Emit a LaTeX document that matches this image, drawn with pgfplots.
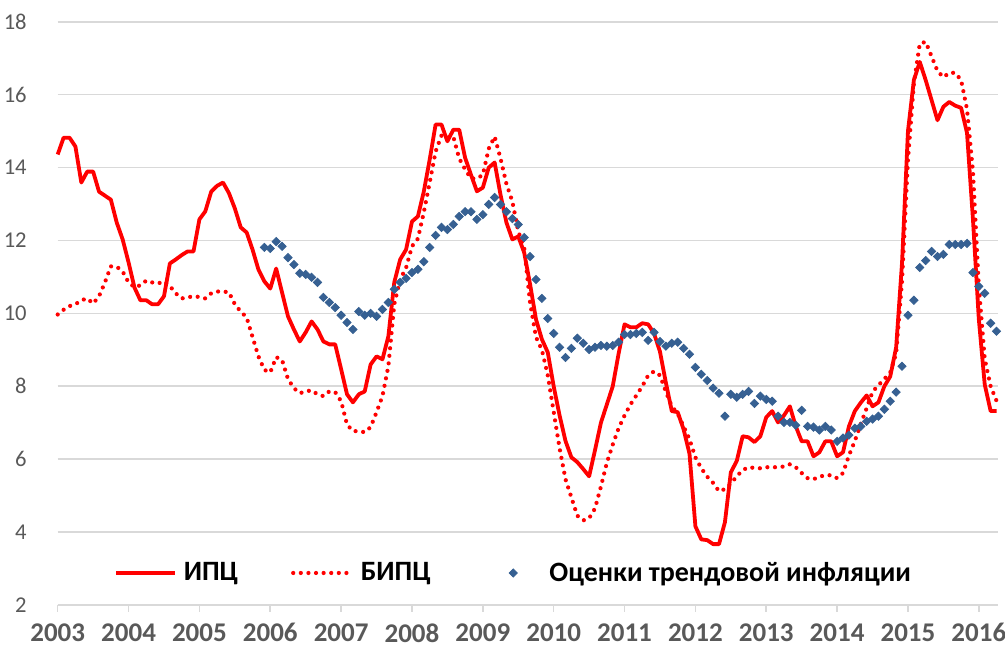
\documentclass[border=0pt]{standalone}
\usepackage{fontspec}
\setmainfont{Carlito}
\usepackage{pgfplots}
\pgfplotsset{compat=1.18}
\usepackage{pgfplotstable}
\definecolor{cpired}{RGB}{255,0,0}
\definecolor{trendblue}{RGB}{54,96,146}
\definecolor{gridgray}{RGB}{217,217,217}
\definecolor{labelgray}{RGB}{89,89,89}

% CPI, monthly from Jan 2003
\pgfplotstableread[row sep=\\]{
v\\
14.36\\ 14.82\\ 14.82\\ 14.58\\ 13.59\\ 13.89\\ 13.89\\ 13.34\\ 13.23\\ 13.12\\ 12.49\\ 12.03\\
11.40\\ 10.71\\ 10.36\\ 10.36\\ 10.25\\ 10.25\\ 10.47\\ 11.37\\ 11.48\\ 11.60\\ 11.70\\ 11.70\\
12.58\\ 12.80\\ 13.34\\ 13.50\\ 13.59\\ 13.30\\ 12.88\\ 12.36\\ 12.22\\ 11.75\\ 11.20\\ 10.88\\
10.68\\ 11.23\\ 10.57\\ 9.92\\ 9.56\\ 9.23\\ 9.48\\ 9.78\\ 9.56\\ 9.23\\ 9.15\\ 9.15\\
8.47\\ 7.78\\ 7.56\\ 7.78\\ 7.86\\ 8.60\\ 8.82\\ 8.74\\ 9.37\\ 10.85\\ 11.48\\ 11.75\\
12.52\\ 12.66\\ 13.34\\ 14.22\\ 15.18\\ 15.18\\ 14.72\\ 15.04\\ 15.04\\ 14.27\\ 13.80\\ 13.35\\
13.45\\ 14.00\\ 14.14\\ 13.25\\ 12.49\\ 12.03\\ 12.11\\ 11.67\\ 10.80\\ 9.84\\ 9.29\\ 8.93\\
8.00\\ 7.20\\ 6.50\\ 6.05\\ 5.92\\ 5.73\\ 5.53\\ 6.25\\ 7.00\\ 7.50\\ 8.00\\ 8.90\\
9.70\\ 9.62\\ 9.62\\ 9.73\\ 9.70\\ 9.45\\ 8.95\\ 8.10\\ 7.32\\ 7.29\\ 6.82\\ 6.15\\
4.16\\ 3.80\\ 3.78\\ 3.67\\ 3.67\\ 4.27\\ 5.64\\ 5.95\\ 6.63\\ 6.60\\ 6.47\\ 6.63\\
7.15\\ 7.32\\ 7.01\\ 7.20\\ 7.45\\ 6.90\\ 6.49\\ 6.49\\ 6.08\\ 6.19\\ 6.49\\ 6.49\\
6.08\\ 6.19\\ 6.90\\ 7.32\\ 7.55\\ 7.75\\ 7.45\\ 7.56\\ 8.00\\ 8.27\\ 9.07\\ 11.40\\
15.00\\ 16.40\\ 16.90\\ 16.40\\ 15.85\\ 15.30\\ 15.67\\ 15.80\\ 15.70\\ 15.64\\ 14.95\\ 12.60\\
9.84\\ 8.05\\ 7.32\\ 7.32\\
}\cpi

% BIPC (core CPI), monthly from Jan 2003
\pgfplotstableread[row sep=\\]{
v\\
9.97\\ 10.10\\ 10.20\\ 10.25\\ 10.36\\ 10.41\\ 10.27\\ 10.47\\ 10.85\\ 11.29\\ 11.28\\ 11.15\\
10.85\\ 10.72\\ 10.77\\ 10.90\\ 10.85\\ 10.82\\ 10.88\\ 10.75\\ 10.55\\ 10.41\\ 10.44\\ 10.47\\
10.45\\ 10.41\\ 10.55\\ 10.60\\ 10.60\\ 10.58\\ 10.25\\ 10.05\\ 9.89\\ 9.35\\ 8.82\\ 8.45\\
8.38\\ 8.80\\ 8.72\\ 8.20\\ 7.95\\ 7.81\\ 7.86\\ 7.89\\ 7.78\\ 7.73\\ 7.86\\ 7.84\\
7.59\\ 6.95\\ 6.77\\ 6.77\\ 6.74\\ 6.88\\ 7.29\\ 7.73\\ 8.55\\ 10.25\\ 10.93\\ 11.25\\
11.84\\ 12.05\\ 12.77\\ 13.59\\ 14.44\\ 14.88\\ 14.82\\ 14.85\\ 14.25\\ 13.95\\ 13.70\\ 13.70\\
13.80\\ 14.52\\ 14.85\\ 14.25\\ 13.55\\ 13.07\\ 12.25\\ 11.80\\ 10.30\\ 9.35\\ 9.00\\ 8.30\\
7.30\\ 6.30\\ 5.45\\ 4.95\\ 4.45\\ 4.32\\ 4.38\\ 4.65\\ 5.25\\ 5.90\\ 6.40\\ 6.85\\
7.20\\ 7.50\\ 7.75\\ 8.00\\ 8.30\\ 8.41\\ 8.30\\ 7.85\\ 7.45\\ 7.25\\ 6.90\\ 6.55\\
6.05\\ 5.75\\ 5.52\\ 5.35\\ 5.12\\ 5.18\\ 5.33\\ 5.53\\ 5.70\\ 5.78\\ 5.76\\ 5.75\\
5.78\\ 5.78\\ 5.78\\ 5.80\\ 5.86\\ 5.78\\ 5.62\\ 5.48\\ 5.45\\ 5.52\\ 5.56\\ 5.56\\
5.48\\ 5.62\\ 6.10\\ 6.50\\ 6.96\\ 7.40\\ 7.85\\ 8.03\\ 8.20\\ 8.38\\ 8.90\\ 10.90\\
14.22\\ 16.30\\ 17.40\\ 17.45\\ 17.05\\ 16.65\\ 16.48\\ 16.60\\ 16.60\\ 16.40\\ 15.60\\ 13.90\\
10.74\\ 8.75\\ 8.00\\ 7.60\\
}\bipc

% Trend inflation estimates, monthly from Dec 2005
\pgfplotstableread[row sep=\\]{
v\\
11.81\\
11.78\\ 11.97\\ 11.84\\ 11.53\\ 11.34\\ 11.10\\ 11.07\\ 10.99\\ 10.85\\ 10.44\\ 10.30\\ 10.16\\
9.95\\ 9.75\\ 9.56\\ 10.05\\ 9.95\\ 10.00\\ 9.92\\ 10.11\\ 10.30\\ 10.66\\ 10.85\\ 10.96\\
11.12\\ 11.21\\ 11.42\\ 11.81\\ 12.14\\ 12.36\\ 12.30\\ 12.44\\ 12.66\\ 12.79\\ 12.79\\ 12.58\\
12.71\\ 12.99\\ 13.18\\ 12.99\\ 12.79\\ 12.60\\ 12.44\\ 12.08\\ 11.56\\ 10.93\\ 10.41\\ 9.86\\
9.45\\ 9.07\\ 8.79\\ 9.04\\ 9.32\\ 9.18\\ 9.01\\ 9.07\\ 9.12\\ 9.10\\ 9.12\\ 9.21\\
9.42\\ 9.42\\ 9.45\\ 9.48\\ 9.26\\ 9.48\\ 9.23\\ 9.10\\ 9.18\\ 9.21\\ 9.04\\ 8.88\\
8.52\\ 8.33\\ 8.16\\ 7.95\\ 7.81\\ 7.18\\ 7.78\\ 7.70\\ 7.78\\ 7.86\\ 7.53\\ 7.73\\
7.64\\ 7.59\\ 7.18\\ 7.01\\ 7.01\\ 6.93\\ 7.34\\ 6.90\\ 6.88\\ 6.80\\ 6.90\\ 6.80\\
6.49\\ 6.58\\ 6.66\\ 6.85\\ 6.90\\ 7.04\\ 7.10\\ 7.18\\ 7.37\\ 7.59\\ 7.84\\ 8.55\\
9.95\\ 10.36\\ 11.26\\ 11.45\\ 11.70\\ 11.56\\ 11.62\\ 11.89\\ 11.89\\ 11.89\\ 11.92\\ 11.12\\
10.74\\ 10.55\\ 9.73\\ 9.51\\
}\trend

\begin{document}
\begin{tikzpicture}
\useasboundingbox (0,0) rectangle (502.5pt,323pt);
\begin{axis}[
  at={(28.85pt,20.5pt)}, anchor=south west,
  scale only axis, width=470pt, height=291.6pt,
  xmin=0, xmax=159.2, ymin=2, ymax=18,
  xtick={0,12,24,36,48,60,72,84,96,108,120,132,144,156},
  xticklabels={2003,2004,2005,2006,2007,2008,2009,2010,2011,2012,2013,2014,2015,2016},
  ytick={2,4,6,8,10,12,14,16,18},
  /pgf/number format/assume math mode=true,
  axis x line*=bottom, axis y line*=left,
  y axis line style={draw=none},
  x axis line style={draw=gridgray, line width=0.8pt},
  ytick style={draw=none},
  xtick style={draw=gridgray, line width=0.8pt},
  tick align=outside, major tick length=3.5pt,
  ymajorgrids, grid style={gridgray, line width=0.8pt},
  xticklabel style={font=\fontsize{13.5}{15}\selectfont\bfseries, text=labelgray, anchor=north, inner sep=0pt, yshift=-5.5pt},
  yticklabel style={font=\fontsize{11.3}{13}\selectfont, text=labelgray, anchor=east, inner sep=0pt, xshift=-11.8pt},
  legend columns=3,
  legend style={draw=none, fill=none, at={(0.0599,0.0549)}, anchor=west, inner sep=0pt,
    font=\fontsize{14}{16}\selectfont\bfseries, nodes={inner sep=0pt},
    /tikz/every odd column/.append style={column sep=3.3pt},
    /tikz/every even column/.append style={column sep=26.5pt}},
  legend image code/.code={\path[draw=none,fill=none] (0pt,-2pt) rectangle (29.5pt,2pt);
    \draw[mark repeat=2,mark phase=2,#1] plot coordinates {(0pt,0pt) (14.75pt,0pt) (29.5pt,0pt)};},
  clip=false,
]
\addplot[cpired, line width=1.9pt, line join=round, no marks] table[x expr=\coordindex, y=v] {\cpi};
\addlegendentry{ИПЦ}
\addplot[cpired, line width=2.1pt, line cap=round, dash pattern=on 0pt off 3.8pt, no marks] table[x expr=\coordindex, y=v] {\bipc};
\addlegendentry{БИПЦ}
\addplot[only marks, mark=square*, mark size=1.45pt, mark options={rotate=45, fill=trendblue, draw=trendblue}] table[x expr=\coordindex+35, y=v] {\trend};
\addlegendentry{Оценки трендовой инфляции}
\end{axis}
\end{tikzpicture}
\end{document}
